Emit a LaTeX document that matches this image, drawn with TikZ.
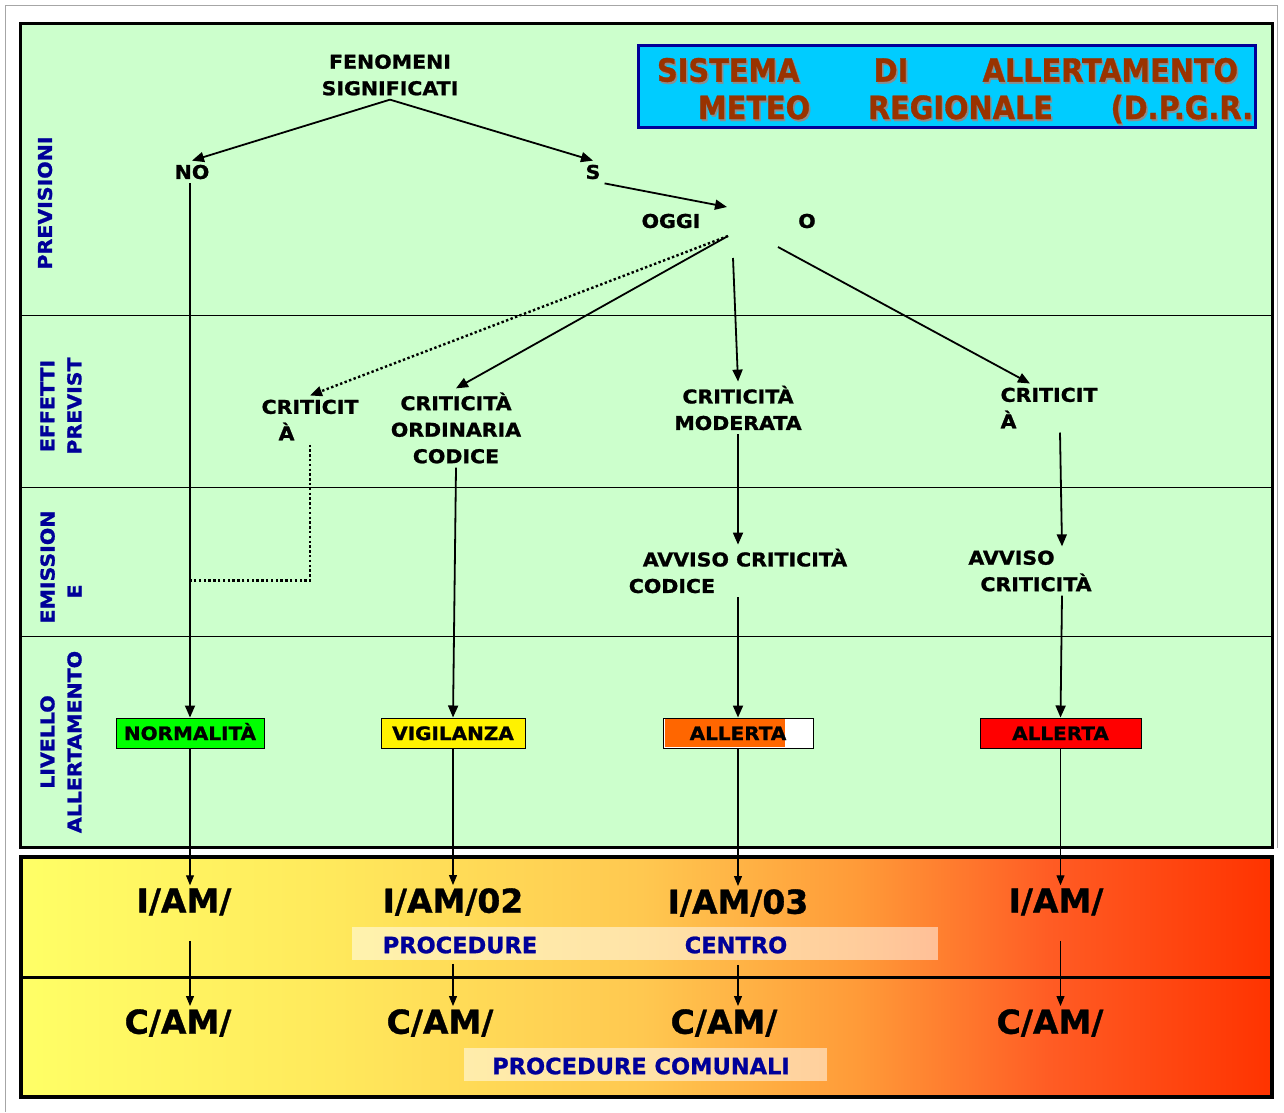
\documentclass[tikz,border=0pt]{standalone}
\usepackage{fontspec}
\setmainfont{DejaVu Sans Bold}[FakeStretch=1.08, FakeBold=1.2]
\newfontfamily\codicefont{DejaVu Sans Bold}[FakeBold=1]
\newfontfamily\strettofont{DejaVu Sans Condensed Bold}[FakeBold=1]
\usetikzlibrary{arrows.meta}

\definecolor{verdino}{HTML}{CCFFCC}
\definecolor{blusc}{HTML}{000099}
\definecolor{ciano}{HTML}{00CCFF}
\definecolor{marrone}{HTML}{993300}
\definecolor{verdelivello}{HTML}{00FF00}
\definecolor{arancio}{HTML}{FF6600}

\pgfdeclarehorizontalshading{allerta}{100bp}{color(0bp)=(yellow!60!white);
  color(25bp)=(yellow!60!white); color(37.4bp)=(rgb,255:red,255;green,233;blue,92);
  color(49.8bp)=(rgb,255:red,255;green,200;blue,80); color(58.5bp)=(rgb,255:red,255;green,154;blue,56);
  color(66.1bp)=(rgb,255:red,255;green,92;blue,36); color(75bp)=(rgb,255:red,255;green,51;blue,0);
  color(100bp)=(rgb,255:red,255;green,51;blue,0)}

\begin{document}
\begin{tikzpicture}[x=1pt,y=-1pt,
    testo/.style={font=\fontsize{19}{26.5}\selectfont, inner sep=4pt, align=center},
    lato/.style={font=\fontsize{19}{27}\selectfont, text=blusc, rotate=90, inner sep=0pt},
    freccia/.style={-{Triangle[length=12pt,width=10pt]}, line width=1.8pt},
    frecciafine/.style={-{Triangle[length=10pt,width=8pt]}, line width=1.1pt},
    puntini/.style={line width=2.4pt, dash pattern=on 2.4pt off 2.4pt},
    livello/.style={draw, line width=1pt, minimum height=30pt, inner sep=0pt,
      text height=14pt, text depth=0pt, font=\fontsize{18.5}{23}\selectfont},
    codice/.style={font=\codicefont\fontsize{33}{40}\selectfont, inner sep=3pt},
    proc/.style={font=\codicefont\fontsize{22.5}{26}\selectfont, text=blusc, inner sep=0pt},
    titolo/.style={font=\strettofont\fontsize{32}{38}\selectfont, inner sep=0pt}]
    \useasboundingbox (0,0) rectangle (1284,1112);

    % cornice esterna
    \draw[gray!70, line width=1pt] (5,1112) -- (5,5) -- (1277,5) -- (1277,848);

    % pannello verde e fasce
    \draw[fill=verdino, line width=3pt] (20,23) rectangle (1272,847);
    \draw[line width=0.8pt] (20,315) -- (1272,315);
    \draw[line width=0.8pt] (20,487) -- (1272,487);
    \draw[line width=0.8pt] (20,636) -- (1272,636);

    % pannello sfumato in basso
    \shadedraw[shading=allerta, line width=3.5pt] (21,857) rectangle (1272,1097);
    \draw[line width=3pt] (21,977) -- (1272,977);
    \fill[white, opacity=0.5] (352,927) rectangle (938,960);
    \fill[white, opacity=0.5] (464,1048) rectangle (827,1081);

    % etichette laterali
    \node[lato] at (45,203) {PREVISIONI};
    \node[lato, align=center] at (61,406) {EFFETTI\\PREVIST};
    \node[lato, align=left] at (61,567) {EMISSION\\\hspace*{25pt}E};
    \node[lato, align=center] at (61,742) {LIVELLO\\ALLERTAMENTO};

    % riquadro del titolo
    \node[draw=blusc, line width=3pt, fill=ciano, minimum width=617pt, minimum height=82pt] (tit) at (946.5,86) {};
    \node[titolo, text=black!45] at (949,72) {\hbox to 581pt{SISTEMA\hfill DI\hfill ALLERTAMENTO}};
    \node[titolo, text=marrone] (tit1) at (947.5,70) {\hbox to 581pt{SISTEMA\hfill DI\hfill ALLERTAMENTO}};
    \node[titolo, text=black!45] at (977,111) {\hbox to 555pt{METEO\hfill REGIONALE\hfill (D.P.G.R.}};
    \node[titolo, text=marrone] (tit2) at (975.5,109) {\hbox to 555pt{METEO\hfill REGIONALE\hfill (D.P.G.R.}};

    % previsioni
    \node[testo] (fen) at (390,75) {FENOMENI\\SIGNIFICATI};
    \node[testo] (no) at (192,172) {NO};
    \node[testo] (si) at (593,172) {S};
    \node[testo] (oggi) at (671,221) {OGGI};
    \node[testo] (o) at (807,221) {O};
    \coordinate (arrivo) at (727,207);
    \coordinate (bivio) at (728,236);
    \coordinate (bivio2) at (733,258);
    \coordinate (bivio3) at (778,247);

    % effetti previsti
    \node[testo, align=left] (crit1) at (310,420) {CRITICIT\\\hspace*{17pt}À};
    \node[testo] (crit2) at (456,428) {CRITICITÀ\\ORDINARIA\\CODICE};
    \node[testo] (crit3) at (738,408) {CRITICITÀ\\MODERATA};
    \node[testo, align=left] (crit4) at (1049,408) {CRITICIT\\À};

    % emissione
    \node[testo, align=left] (avv1) at (738,571) {\hspace*{14pt}AVVISO CRITICITÀ\\CODICE};
    \node[testo, align=left] (avv2) at (1030,571) {AVVISO\\\hspace*{12pt}CRITICITÀ};

    % livelli di allertamento
    \node[livello, fill=verdelivello, minimum width=148pt] (normal) at (190,733) {NORMALITÀ};
    \node[livello, fill=yellow, minimum width=144pt] (vigil) at (453,733) {VIGILANZA};
    \node[livello, fill=white, minimum width=150pt] (allerta1) at (738,733) {};
    \fill[arancio] (664.5,719) rectangle (785,747);
    \node[font=\fontsize{18.5}{23}\selectfont, text height=14pt, text depth=0pt, inner sep=0pt] at (allerta1) {ALLERTA};
    \node[livello, fill=red, minimum width=161pt] (allerta2) at (1060.5,733) {ALLERTA};

    % codici
    \node[codice] (iam1) at (184,902) {I/AM/};
    \node[codice] (iam2) at (453,902) {I/AM/02};
    \node[codice] (iam3) at (738,903) {I/AM/03};
    \node[codice] (iam4) at (1056,902) {I/AM/};
    \node[proc] (proc1) at (460,945) {PROCEDURE};
    \node[proc] (centro) at (736,945) {CENTRO};
    \node[codice] (cam1) at (178,1023) {C/AM/};
    \node[codice] (cam2) at (440,1023) {C/AM/};
    \node[codice] (cam3) at (724,1023) {C/AM/};
    \node[codice] (cam4) at (1050,1023) {C/AM/};
    \node[proc] (proc2) at (641,1066) {PROCEDURE COMUNALI};

    % frecce delle previsioni
    \draw[freccia] (fen.south) -- (no.north);
    \draw[freccia] (fen.south) -- (si.north);
    \draw[freccia] (si.south east) -- (arrivo);
    \draw[freccia, puntini] (bivio) -- (crit1.north);
    \draw[freccia] (bivio) -- (crit2.north);
    \draw[freccia] (bivio2) -- (crit3.north);
    \draw[freccia] (bivio3) -- ([xshift=-19pt]crit4.north);

    % frecce verso i livelli
    \draw[freccia] (no.south -| normal.north) -- (normal.north);
    \draw[puntini] (crit1.south) -- ++(0,136) -| (normal.north);
    \draw[freccia] (crit2.south) -- (vigil.north);
    \draw[freccia] (crit3.south) -- (avv1.north);
    \draw[freccia] (avv1.south) -- (allerta1.north);
    \draw[freccia] ([xshift=11pt]crit4.south) -- ([xshift=32pt]avv2.north);
    \draw[freccia] ([xshift=32pt]avv2.south) -- (allerta2.north);

    % frecce verso i codici
    \draw[frecciafine] (normal.south) -- (normal.south |- iam1.north);
    \draw[frecciafine] (vigil.south) -- (vigil.south |- iam2.north);
    \draw[frecciafine] (allerta1.south) -- (allerta1.south |- iam3.north);
    \draw[frecciafine] (allerta2.south) -- (allerta2.south |- iam4.north);
    \draw[frecciafine, shorten <=22pt] (iam1.south -| normal.south) -- (cam1.north -| normal.south);
    \draw[frecciafine, shorten <=45pt] (iam2.south -| vigil.south) -- (cam2.north -| vigil.south);
    \draw[frecciafine, shorten <=45pt] (iam3.south -| allerta1.south) -- (cam3.north -| allerta1.south);
    \draw[frecciafine, shorten <=22pt] (iam4.south -| allerta2.south) -- (cam4.north -| allerta2.south);
\end{tikzpicture}
\end{document}
